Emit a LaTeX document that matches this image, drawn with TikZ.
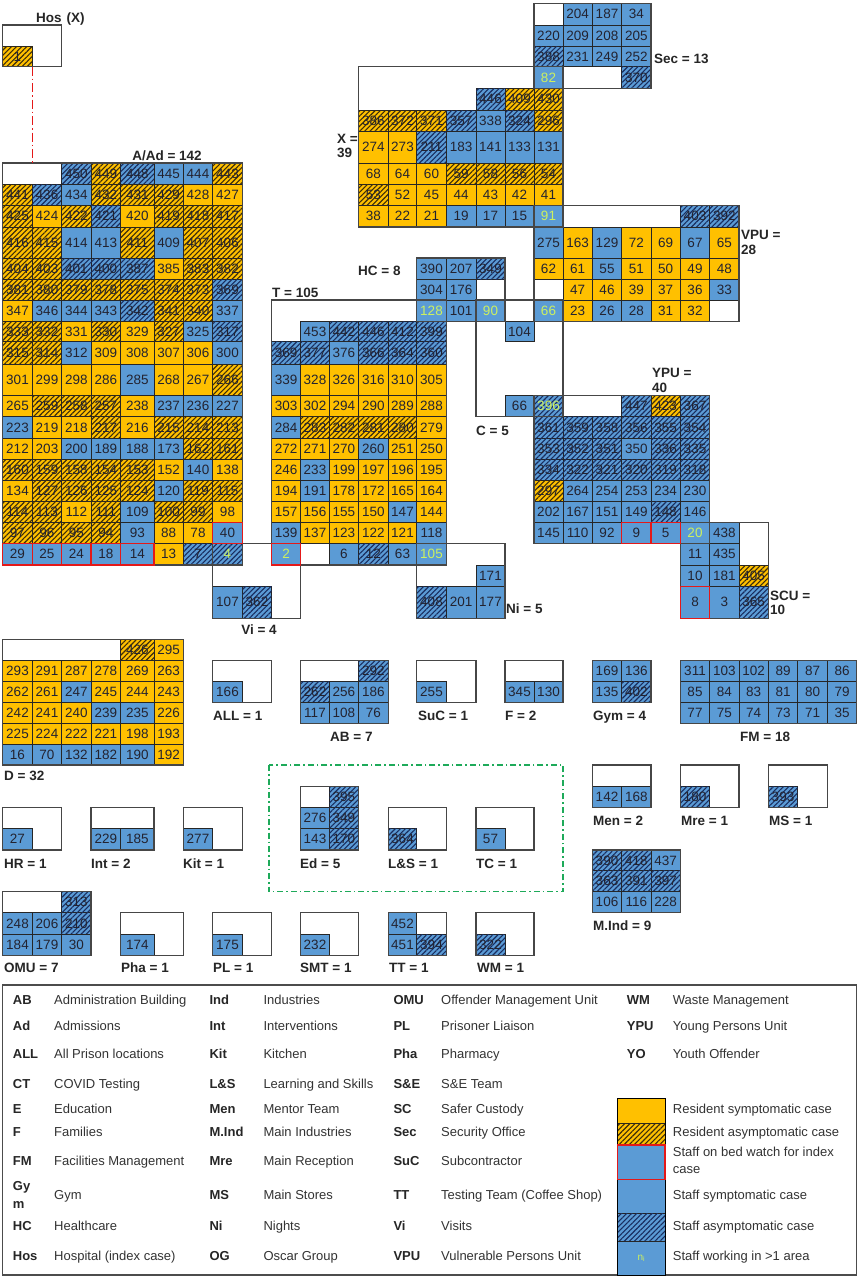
\documentclass[tikz,border=0pt]{standalone}
\usepackage{fontspec}
\setmainfont{Liberation Sans}
\usetikzlibrary{patterns.meta}

\definecolor{cy}{RGB}{255,192,0}
\definecolor{cb}{RGB}{91,155,213}
\definecolor{hatchy}{RGB}{60,45,10}
\definecolor{hatchb}{RGB}{25,45,95}
\definecolor{celltxt}{RGB}{35,35,48}
\definecolor{cg}{RGB}{205,240,95}
\definecolor{redc}{RGB}{228,25,25}
\definecolor{greenc}{RGB}{30,170,90}
\definecolor{zonec}{RGB}{70,70,70}

\newcount\cellno
\newcount\legno
\foreach \v [count=\i from 0] in {2.7,32.3,61.7,91,120.7,154,183.3,212.7,242.3,271.7,300.7,329.3,358.3,388.3,416.7,446.3,476,505,534,563,592.3,621.7,651,680.3,709.7,739,768.3,797.7,827.3,856.7}{\expandafter\xdef\csname gx\i\endcsname{\v}}
\foreach \v [count=\i from 0] in {3.3,25,46.7,66.7,88.3,110,131,163,184.5,205.3,227,258,279.3,300,321.3,341.7,364,395.5,416.7,438.3,459.3,480,501,522.3,543.3,565,586.3,618.3,639.3,660.7,681.7,702.7,723.5,744.3,765,786.3,807.3,828.3,850,870.7,891.7,912.7,934,955.5}{\expandafter\xdef\csname gy\i\endcsname{\v}}
\gdef\redlist{}
\def\redmark#1{\xdef\redlist{\unexpanded\expandafter{\redlist}\noexpand\redbox{#1}}}
\def\markY#1{}\def\markYH#1{}\def\markB#1{}\def\markBH#1{}
\def\markG#1{}\def\markGH#1{}\def\markR#1{\redmark{#1}}\def\markRG#1{\redmark{#1}}

\tikzset{
  cellbox/.style={draw=black!85, line width=0.8pt, inner sep=0pt, outer sep=0pt,
    anchor=north west, font=\fontsize{13.5}{14}\selectfont, text=celltxt},
  ctype/.style={st#1},
  hatchY/.style={postaction={pattern={Lines[angle=45,distance=3.6pt,line width=1.1pt]}, pattern color=hatchy}},
  hatchB/.style={postaction={pattern={Lines[angle=45,distance=3.6pt,line width=1.1pt]}, pattern color=hatchb}},
  stY/.style={fill=cy},
  stYH/.style={fill=cy, hatchY},
  stB/.style={fill=cb},
  stBH/.style={fill=cb, hatchB},
  stR/.style={fill=cb},
  stG/.style={fill=cb, text=cg},
  stGH/.style={fill=cb, hatchB, text=cg},
  stRG/.style={fill=cb, text=cg},
  zone/.style={draw=zonec, line width=1.2pt},
  redline/.style={draw=redc, line width=1.2pt},
  lab/.style={font=\bfseries\fontsize{13.5}{15}\selectfont, text=black!85, inner sep=0pt, anchor=west, text height=9.8pt, text depth=2.8pt},
  leg/.style={font=\fontsize{13}{15}\selectfont, text=black!80, inner sep=0pt, anchor=west, text height=9.5pt, text depth=2.7pt},
  legb/.style={font=\bfseries\fontsize{13}{15}\selectfont, text=black!85, inner sep=0pt, anchor=west, text height=9.5pt, text depth=2.7pt},
}
\protected\def\redbox#1{\draw[redline] (#1.north west) rectangle (#1.south east);}

\newcommand\Cell[6]{%
  \global\advance\cellno by 1\relax
  \pgfmathsetmacro\cWd{#3-#1}%
  \pgfmathsetmacro\cHt{#4-#2}%
  \node[cellbox, ctype/.expanded=#5, minimum width=\cWd pt, minimum height=\cHt pt] (cell\the\cellno) at (#1,#2) {#6};%
  \csname mark#5\endcsname{cell\the\cellno}%
}
\newcommand\Row[3]{%
  \foreach \ty/\lb [count=\k from #2] in {#3}{%
    \pgfmathtruncatemacro\kk{\k+1}%
    \pgfmathtruncatemacro\rr{#1+1}%
    \edef\xa{\csname gx\k\endcsname}%
    \edef\xb{\csname gx\kk\endcsname}%
    \edef\ya{\csname gy#1\endcsname}%
    \edef\yb{\csname gy\rr\endcsname}%
    \Cell{\xa}{\ya}{\xb}{\yb}{\ty}{\lb}%
  }%
}
\newcommand\Zone[4]{%
  \edef\zA{\csname gx#1\endcsname}\edef\zB{\csname gy#2\endcsname}%
  \edef\zC{\csname gx#3\endcsname}\edef\zD{\csname gy#4\endcsname}%
  \draw[zone] (\zA,\zB) rectangle (\zC,\zD);%
}
\newcommand\Lg[4]{%
  \global\advance\legno by 1\relax
  \node[#1] (lg\the\legno) at (#2,#3) {#4};%
}

\begin{document}
\begin{tikzpicture}[x=1pt,y=-1pt]
\fill[white] (0,0) rectangle (861,1280);
\useasboundingbox (0,0) rectangle (861,1280);

% ---------- Hos ----------
\Row{2}{0}{YH/1}
% ---------- Sec ----------
\Row{0}{19}{B/204, B/187, B/34}
\Row{1}{18}{B/220, B/209, B/208, B/205}
\Row{2}{18}{BH/388, B/231, B/249, B/252}
\Row{3}{18}{G/82}
\Row{3}{21}{BH/370}
% ---------- X ----------
\Row{4}{16}{BH/446, YH/409, YH/430}
\Row{5}{12}{YH/386, YH/372, YH/371, BH/357, B/338, BH/324, YH/296}
\Row{6}{12}{Y/274, Y/273, BH/211, B/183, B/141, B/133, B/131}
\Row{7}{12}{Y/68, Y/64, Y/60, YH/59, YH/58, YH/56, YH/54}
\Row{8}{12}{YH/53, Y/52, Y/45, Y/44, Y/43, Y/42, Y/41}
\Row{9}{12}{Y/38, Y/22, Y/21, B/19, B/17, B/15, G/91}
% ---------- VPU ----------
\Row{9}{23}{BH/403, BH/392}
\Row{10}{18}{B/275, Y/163, B/129, Y/72, Y/69, B/67, Y/65}
\Row{11}{18}{Y/62, Y/61, B/55, Y/51, Y/50, Y/49, Y/48}
\Row{12}{19}{Y/47, Y/46, Y/39, Y/37, Y/36, B/33}
\Row{13}{18}{G/66, Y/23, B/26, B/28, Y/31, Y/32}
% ---------- HC ----------
\Row{11}{14}{B/390, B/207, BH/349}
\Row{12}{14}{B/304, B/176}
\Row{13}{14}{G/128, B/101, G/90}
% ---------- C ----------
\Row{14}{17}{B/104}
\Row{17}{17}{B/66, GH/396}
% ---------- YPU ----------
\Row{17}{21}{BH/447, YH/423, BH/367}
\Row{18}{18}{BH/361, BH/359, BH/358, BH/356, BH/355, BH/354}
\Row{19}{18}{BH/353, BH/352, BH/351, B/350, BH/336, BH/335}
\Row{20}{18}{BH/334, BH/322, BH/321, BH/320, BH/319, BH/318}
\Row{21}{18}{YH/297, B/264, B/254, B/253, B/234, B/230}
\Row{22}{18}{B/202, B/167, B/151, B/149, BH/148, B/146}
\Row{23}{18}{B/145, B/110, B/92, R/9, R/5, G/20, B/438}
% ---------- SCU ----------
\Row{24}{23}{B/11, B/435}
\Row{25}{23}{B/10, B/181, YH/405}
\Row{26}{23}{R/8, B/3, BH/365}
% ---------- A/Ad ----------
\Row{7}{2}{BH/450, YH/449, BH/448, B/445, B/444, YH/443}
\Row{8}{0}{YH/441, BH/436, B/434, YH/432, YH/431, YH/429, Y/428, Y/427}
\Row{9}{0}{YH/425, Y/424, YH/422, BH/421, Y/420, YH/419, YH/418, YH/417}
\Row{10}{0}{YH/416, YH/415, B/414, B/413, YH/411, B/409, YH/407, YH/406}
\Row{11}{0}{YH/404, YH/403, BH/401, BH/400, BH/387, Y/385, YH/383, YH/382}
\Row{12}{0}{YH/381, YH/380, YH/379, YH/378, YH/375, YH/374, YH/373, BH/369}
\Row{13}{0}{Y/347, B/346, B/344, B/343, BH/342, YH/341, YH/340, B/337}
\Row{14}{0}{YH/333, YH/332, Y/331, YH/330, Y/329, YH/327, B/325, BH/317}
\Row{15}{0}{YH/315, YH/314, B/312, Y/309, Y/308, Y/307, Y/306, B/300}
\Row{16}{0}{Y/301, Y/299, Y/298, Y/286, B/285, Y/268, Y/267, YH/266}
\Row{17}{0}{Y/265, YH/259, YH/258, YH/257, Y/238, B/237, B/236, B/227}
\Row{18}{0}{B/223, Y/219, Y/218, YH/217, Y/216, YH/215, YH/214, YH/213}
\Row{19}{0}{Y/212, Y/203, B/200, B/189, B/188, B/173, YH/162, YH/161}
\Row{20}{0}{YH/160, YH/159, YH/158, YH/154, YH/153, Y/152, B/140, Y/138}
\Row{21}{0}{Y/134, YH/127, YH/126, YH/125, YH/124, B/120, YH/119, YH/115}
\Row{22}{0}{YH/114, YH/113, Y/112, YH/111, B/109, YH/100, YH/99, Y/98}
\Row{23}{0}{YH/97, YH/96, YH/95, YH/94, B/93, Y/88, Y/78, R/40}
\Row{24}{0}{R/29, R/25, R/24, R/18, R/14, Y/13, BH/7, GH/4}
% ---------- T ----------
\Row{14}{10}{B/453, BH/442, BH/446, BH/412, BH/399}
\Row{15}{9}{BH/369, BH/377, B/376, BH/366, BH/364, BH/360}
\Row{16}{9}{B/339, Y/328, Y/326, Y/316, Y/310, Y/305}
\Row{17}{9}{Y/303, Y/302, Y/294, Y/290, Y/289, Y/288}
\Row{18}{9}{B/284, YH/283, YH/282, YH/281, YH/280, Y/279}
\Row{19}{9}{Y/272, Y/271, Y/270, B/260, Y/251, Y/250}
\Row{20}{9}{Y/246, B/233, Y/199, Y/197, Y/196, Y/195}
\Row{21}{9}{Y/194, B/191, Y/178, Y/172, Y/165, Y/164}
\Row{22}{9}{Y/157, Y/156, Y/155, Y/150, B/147, Y/144}
\Row{23}{9}{B/139, Y/137, Y/123, Y/122, Y/121, B/118}
\Row{24}{9}{RG/2}
\Row{24}{11}{B/6, BH/12, B/63, G/105}
% ---------- Vi, Ni ----------
\Row{26}{7}{B/107, BH/362}
\Row{25}{16}{B/171}
\Row{26}{14}{BH/408, B/201, B/177}
% ---------- D ----------
\Row{28}{4}{YH/426, Y/295}
\Row{29}{0}{Y/293, Y/291, Y/287, Y/278, Y/269, Y/263}
\Row{30}{0}{Y/262, Y/261, B/247, Y/245, Y/244, Y/243}
\Row{31}{0}{Y/242, Y/241, Y/240, B/239, B/235, Y/226}
\Row{32}{0}{Y/225, Y/224, Y/222, Y/221, Y/198, Y/193}
\Row{33}{0}{B/16, B/70, B/132, B/182, B/190, Y/192}
% ---------- small boxes ----------
\Row{30}{7}{B/166}
\Row{29}{12}{BH/292}
\Row{30}{10}{BH/262, B/256, B/186}
\Row{31}{10}{B/117, B/108, B/76}
\Row{30}{14}{B/255}
\Row{30}{17}{B/345, B/130}
\Row{29}{20}{B/169, B/136}
\Row{30}{20}{B/135, BH/402}
\Row{29}{23}{B/311, B/103, B/102, B/89, B/87, B/86}
\Row{30}{23}{B/85, B/84, B/83, B/81, B/80, B/79}
\Row{31}{23}{B/77, B/75, B/74, B/73, B/71, B/35}
\Row{35}{20}{B/142, B/168}
\Row{35}{23}{BH/180}
\Row{35}{26}{BH/393}
\Row{38}{20}{BH/390, BH/418, B/437}
\Row{39}{20}{BH/363, BH/391, BH/397}
\Row{40}{20}{B/106, B/116, B/228}
\Row{37}{0}{B/27}
\Row{37}{3}{B/229, B/185}
\Row{37}{6}{B/277}
\Row{35}{11}{BH/395}
\Row{36}{10}{B/276, BH/349}
\Row{37}{10}{B/143, BH/170}
\Row{37}{13}{BH/364}
\Row{37}{16}{B/57}
\Row{40}{2}{BH/313}
\Row{41}{0}{B/248, B/206, BH/210}
\Row{42}{0}{B/184, B/179, B/30}
\Row{42}{4}{B/174}
\Row{42}{7}{B/175}
\Row{42}{10}{B/232}
\Row{41}{13}{B/452}
\Row{42}{13}{B/451, BH/394}
\Row{42}{16}{BH/322}

% ---------- zones ----------
\Zone{0}{1}{2}{3}
\Zone{0}{7}{8}{25}
\Zone{7}{24}{10}{27}
\Zone{9}{13}{15}{25}
\Zone{14}{11}{17}{14}
\Zone{16}{13}{19}{18}
\Zone{18}{9}{25}{14}
\Zone{12}{3}{19}{10}
\Zone{18}{0}{22}{4}
\Zone{18}{17}{24}{24}
\Zone{23}{23}{26}{27}
\Zone{14}{24}{17}{27}
\Zone{0}{28}{6}{34}
\Zone{7}{29}{9}{31}
\Zone{10}{29}{13}{32}
\Zone{14}{29}{16}{31}
\Zone{17}{29}{19}{31}
\Zone{20}{29}{22}{31}
\Zone{23}{29}{29}{32}
\Zone{20}{34}{22}{36}
\Zone{23}{34}{25}{36}
\Zone{26}{34}{28}{36}
\Zone{20}{38}{23}{41}
\Zone{0}{36}{2}{38}
\Zone{3}{36}{5}{38}
\Zone{6}{36}{8}{38}
\Zone{10}{35}{12}{38}
\Zone{13}{36}{15}{38}
\Zone{16}{36}{18}{38}
\Zone{0}{40}{3}{43}
\Zone{4}{41}{6}{43}
\Zone{7}{41}{9}{43}
\Zone{10}{41}{12}{43}
\Zone{13}{41}{15}{43}
\Zone{16}{41}{18}{43}

% ---------- connectors ----------
\coordinate (adtop) at (32.3,163);
\draw[redc, line width=1.3pt, dash pattern=on 9pt off 3pt on 1.5pt off 3pt] (cell1.south east) -- (adtop);
\draw[greenc, line width=1.3pt, dash pattern=on 6pt off 3pt on 1.5pt off 3pt] (269,765) rectangle (563,891.7);

% ---------- labels ----------
\node[lab] (lhos) at (36,18.5) {Hos\hspace{5pt}(X)};
\node[lab, anchor=center] (lad) at (167,157) {A/Ad = 142};
\node[lab] (lt) at (272,294) {T = 105};
\node[lab] (lhc) at (358,272) {HC = 8};
\node[lab] (lx1) at (337,140) {X =};
\node[lab] (lx2) at (337,154) {39};
\node[lab] (lsec) at (654,60) {Sec = 13};
\node[lab] (lvpu1) at (741,236) {VPU =};
\node[lab] (lvpu2) at (741,251) {28};
\node[lab] (lc) at (476,432) {C = 5};
\node[lab] (lypu1) at (652,374) {YPU =};
\node[lab] (lypu2) at (652,388.5) {40};
\node[lab] (lni) at (506,610) {Ni = 5};
\node[lab] (lscu1) at (770,597) {SCU =};
\node[lab] (lscu2) at (770,611) {10};
\node[lab, anchor=center] (lvi) at (259,631) {Vi = 4};
\node[lab] (ld) at (4,777) {D = 32};
\node[lab] (lall) at (213,717) {ALL = 1};
\node[lab] (lab7) at (330,738) {AB = 7};
\node[lab] (lsuc) at (418,717) {SuC = 1};
\node[lab] (lf) at (505,717) {F = 2};
\node[lab] (lgym) at (593,717) {Gym = 4};
\node[lab] (lfm) at (740,738) {FM = 18};
\node[lab] (lmen) at (593,822) {Men = 2};
\node[lab] (lmre) at (681,822) {Mre = 1};
\node[lab] (lms) at (769,822) {MS = 1};
\node[lab] (lmind) at (593,927) {M.Ind = 9};
\node[lab] (lhr) at (4,865) {HR = 1};
\node[lab] (lint) at (91,865) {Int = 2};
\node[lab] (lkit) at (183,865) {Kit = 1};
\node[lab] (led) at (300,865) {Ed = 5};
\node[lab] (lls) at (388,865) {L\&S = 1};
\node[lab] (ltc) at (476,865) {TC = 1};
\node[lab] (lomu) at (4,969) {OMU = 7};
\node[lab] (lpha) at (121,969) {Pha = 1};
\node[lab] (lpl) at (213,969) {PL = 1};
\node[lab] (lsmt) at (300,969) {SMT = 1};
\node[lab] (ltt) at (389,969) {TT = 1};
\node[lab] (lwm) at (477,969) {WM = 1};

% ---------- legend ----------
\draw[draw=black!70, line width=1.5pt] (2.7,985) rectangle (856.7,1275);
\foreach \yy/\aa/\dd in {1000.7/AB/Administration Building, 1027.3/Ad/Admissions, 1055/ALL/All Prison locations, 1085/CT/COVID Testing, 1110/E/Education, 1132.7/F/Families, 1161.7/FM/Facilities Management, 1227.3/HC/Healthcare, 1257.3/Hos/Hospital (index case)}{%
  \Lg{legb}{12.7}{\yy}{\aa}\Lg{leg}{54}{\yy}{\dd}}
\Lg{legb}{12.7}{1186.7}{Gy}
\Lg{legb}{12.7}{1205}{m}
\Lg{leg}{54}{1196}{Gym}
\foreach \yy/\aa/\dd in {1000.7/Ind/Industries, 1027.3/Int/Interventions, 1055/Kit/Kitchen, 1085/L\&S/Learning and Skills, 1110/Men/Mentor Team, 1132.7/M.Ind/Main Industries, 1161.7/Mre/Main Reception, 1196/MS/Main Stores, 1227.3/Ni/Nights, 1257.3/OG/Oscar Group}{%
  \Lg{legb}{209.3}{\yy}{\aa}\Lg{leg}{263.3}{\yy}{\dd}}
\foreach \yy/\aa/\dd in {1000.7/OMU/Offender Management Unit, 1027.3/PL/Prisoner Liaison, 1055/Pha/Pharmacy, 1085/S\&E/S\&E Team, 1110/SC/Safer Custody, 1132.7/Sec/Security Office, 1161.7/SuC/Subcontractor, 1196/TT/Testing Team (Coffee Shop), 1227.3/Vi/Visits, 1257.3/VPU/Vulnerable Persons Unit}{%
  \Lg{legb}{393.3}{\yy}{\aa}\Lg{leg}{441}{\yy}{\dd}}
\foreach \yy/\aa/\dd in {1000.7/WM/Waste Management, 1027.3/YPU/Young Persons Unit, 1055/YO/Youth Offender}{%
  \Lg{legb}{626.7}{\yy}{\aa}\Lg{leg}{672.7}{\yy}{\dd}}
% swatches
\Cell{617.7}{1098.3}{665}{1123.3}{Y}{}
\Cell{617.7}{1123.3}{665}{1145}{YH}{}
\Cell{617.7}{1145}{665}{1179.3}{R}{}
\Cell{617.7}{1179.3}{665}{1213.3}{B}{}
\Cell{617.7}{1213.3}{665}{1241.7}{BH}{}
\Cell{617.7}{1241.7}{665}{1275}{G}{\fontsize{10}{10}\selectfont n\textsubscript{i}}
\draw[black, line width=1pt] (617.7,1098.3) rectangle (665,1275);
\Lg{leg}{672.7}{1110}{Resident symptomatic case}
\Lg{leg}{672.7}{1132.7}{Resident asymptomatic case}
\Lg{leg}{672.7}{1152.7}{Staff on bed watch for index}
\Lg{leg}{672.7}{1170}{case}
\Lg{leg}{672.7}{1196}{Staff symptomatic case}
\Lg{leg}{672.7}{1227.3}{Staff asymptomatic case}
\Lg{leg}{672.7}{1257.3}{Staff working in >1 area}

% ---------- red borders (bed watch) on top ----------
\redlist
\end{tikzpicture}
\end{document}
